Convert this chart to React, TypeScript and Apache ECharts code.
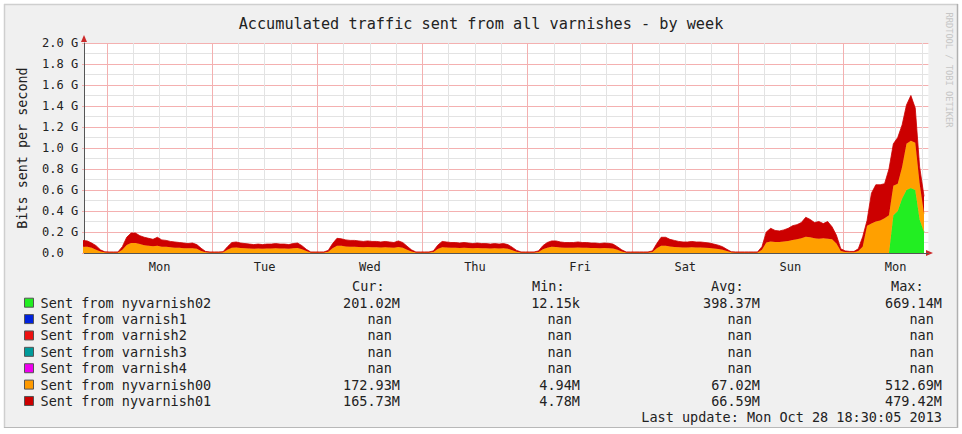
import React, { useEffect, useRef } from 'react';
import * as echarts from 'echarts';

// ---------- texts ----------
const chartTitle = 'Accumulated traffic sent from all varnishes - by week';
const yAxisTitle = 'Bits sent per second';
const watermarkText = 'RRDTOOL / TOBI OETIKER';
const lastUpdateText = 'Last update: Mon Oct 28 18:30:05 2013';
const dayLabels = ['Mon', 'Tue', 'Wed', 'Thu', 'Fri', 'Sat', 'Sun', 'Mon'];

// ---------- data (Gbit/s), hourly samples, hour 0 = Mon 00:00 ----------
const firstSampleHour = -5.5;
const sampleStepHours = 1;

// layer: Sent from nyvarnish00 (orange)
const nyvarnish00 = [
  // Sun evening
  0.06, 0.06, 0.05, 0.03, 0.015, 0.006,
  // Mon
  0.005, 0.005, 0.005, 0.03, 0.076, 0.095, 0.095, 0.085, 0.075, 0.07, 0.065, 0.07,
  0.06, 0.06, 0.055, 0.05, 0.05, 0.045, 0.045, 0.045, 0.04, 0.02, 0.008, 0.005,
  // Tue
  0.005, 0.005, 0.006, 0.03, 0.05, 0.052, 0.048, 0.045, 0.042, 0.04, 0.042, 0.04,
  0.042, 0.043, 0.045, 0.042, 0.042, 0.04, 0.045, 0.047, 0.035, 0.018, 0.005, 0.005,
  // Wed
  0.005, 0.005, 0.012, 0.045, 0.07, 0.068, 0.062, 0.06, 0.06, 0.058, 0.055, 0.057,
  0.055, 0.055, 0.052, 0.055, 0.052, 0.05, 0.057, 0.05, 0.032, 0.015, 0.005, 0.005,
  // Thu
  0.005, 0.005, 0.01, 0.037, 0.055, 0.052, 0.05, 0.05, 0.048, 0.05, 0.048, 0.045,
  0.047, 0.045, 0.045, 0.043, 0.045, 0.042, 0.045, 0.04, 0.027, 0.012, 0.005, 0.005,
  // Fri
  0.005, 0.005, 0.01, 0.035, 0.05, 0.06, 0.058, 0.052, 0.05, 0.05, 0.05, 0.052,
  0.05, 0.05, 0.048, 0.048, 0.045, 0.047, 0.046, 0.042, 0.03, 0.015, 0.005, 0.005,
  // Sat
  0.005, 0.005, 0.005, 0.005, 0.01, 0.045, 0.07, 0.07, 0.062, 0.058, 0.055, 0.052,
  0.052, 0.055, 0.052, 0.052, 0.05, 0.047, 0.042, 0.038, 0.03, 0.018, 0.006, 0.005,
  // Sun
  0.005, 0.005, 0.005, 0.005, 0.005, 0.03, 0.1, 0.11, 0.105, 0.105, 0.11, 0.115,
  0.125, 0.13, 0.14, 0.155, 0.15, 0.14, 0.135, 0.14, 0.135, 0.13, 0.09, 0.02,
  // Mon (until 18:30)
  0.01, 0.008, 0.008, 0.02, 0.06, 0.26, 0.28, 0.3, 0.31, 0.33, 0.36, 0.28,
  0.26, 0.3, 0.44, 0.45, 0.45, 0.34, 0.173,
];

// layer: Sent from nyvarnish01 (dark red)
const nyvarnish01 = [
  // Sun evening
  0.06, 0.055, 0.045, 0.04, 0.015, 0.005,
  // Mon
  0.005, 0.005, 0.005, 0.03, 0.074, 0.095, 0.095, 0.08, 0.075, 0.07, 0.065, 0.08,
  0.065, 0.06, 0.055, 0.055, 0.05, 0.05, 0.045, 0.05, 0.04, 0.025, 0.007, 0.005,
  // Tue
  0.005, 0.005, 0.006, 0.03, 0.05, 0.053, 0.047, 0.045, 0.043, 0.04, 0.043, 0.04,
  0.043, 0.042, 0.045, 0.043, 0.043, 0.04, 0.045, 0.048, 0.035, 0.017, 0.005, 0.005,
  // Wed
  0.005, 0.005, 0.013, 0.045, 0.07, 0.067, 0.063, 0.06, 0.06, 0.057, 0.055, 0.058,
  0.055, 0.055, 0.053, 0.055, 0.053, 0.05, 0.058, 0.05, 0.033, 0.015, 0.005, 0.005,
  // Thu
  0.005, 0.005, 0.01, 0.038, 0.055, 0.053, 0.05, 0.05, 0.047, 0.05, 0.047, 0.045,
  0.048, 0.045, 0.045, 0.042, 0.045, 0.043, 0.045, 0.04, 0.028, 0.013, 0.005, 0.005,
  // Fri
  0.005, 0.005, 0.01, 0.035, 0.05, 0.055, 0.057, 0.053, 0.05, 0.05, 0.05, 0.053,
  0.05, 0.05, 0.047, 0.047, 0.045, 0.048, 0.046, 0.043, 0.03, 0.015, 0.005, 0.005,
  // Sat
  0.005, 0.005, 0.005, 0.005, 0.01, 0.045, 0.08, 0.08, 0.068, 0.062, 0.055, 0.053,
  0.053, 0.055, 0.053, 0.053, 0.05, 0.048, 0.043, 0.037, 0.03, 0.017, 0.006, 0.005,
  // Sun
  0.005, 0.005, 0.005, 0.005, 0.005, 0.03, 0.1, 0.125, 0.11, 0.105, 0.11, 0.12,
  0.135, 0.14, 0.15, 0.185, 0.17, 0.15, 0.165, 0.14, 0.165, 0.12, 0.08, 0.02,
  // Mon (until 18:30)
  0.01, 0.007, 0.007, 0.02, 0.095, 0.05, 0.29, 0.35, 0.34, 0.33, 0.44, 0.4,
  0.44, 0.4, 0.37, 0.43, 0.33, 0.16, 0.166,
];

// layer: Sent from nyvarnish02 (green) - unknown before this hour
const nyvarnish02StartHour = 178.5;
const nyvarnish02 = [0.00001215, 0.36, 0.4, 0.52, 0.6, 0.62, 0.6, 0.32, 0.201];

// ---------- legend table ----------
const legendNames = [
  'Sent from nyvarnish02',
  'Sent from varnish1',
  'Sent from varnish2',
  'Sent from varnish3',
  'Sent from varnish4',
  'Sent from nyvarnish00',
  'Sent from nyvarnish01',
];
const legendColors = ['#22ee22', '#0022dd', '#ee1111', '#009b9b', '#ee00ee', '#ff9a00', '#cc0000'];
const statHeaders = ['Cur:', 'Min:', 'Avg:', 'Max:'];
const curValues = ['201.02M', 'nan', 'nan', 'nan', 'nan', '172.93M', '165.73M'];
const minValues = ['12.15k', 'nan', 'nan', 'nan', 'nan', '4.94M', '4.78M'];
const avgValues = ['398.37M', 'nan', 'nan', 'nan', 'nan', '67.02M', '66.59M'];
const maxValues = ['669.14M', 'nan', 'nan', 'nan', 'nan', '512.69M', '479.42M'];

// ---------- styling ----------
const MONO = '"DejaVu Sans Mono", "Liberation Mono", monospace';
const TEXT = '#222';
const majorGrid = '#f4b0b0';
const minorGrid = '#e3e3e3';
const areaGreen = '#22ee22';
const areaOrange = '#ffa000';
const areaRed = '#cc0000';

const xMin = -5.25;
const xMax = 187.5;
const xStep = 0.75;

export default function App() {
  const ref = useRef<HTMLDivElement>(null);

  useEffect(() => {
    if (!ref.current) return;
    const chart = echarts.init(ref.current, undefined, { renderer: 'svg' });

    const sampleHours = nyvarnish00.map((_, i) => firstSampleHour + i * sampleStepHours);
    // rows are [value, hour] so that the stacked dimension is the value (encode maps x to column 1)
    const greenData = sampleHours.map((h) => {
      const j = Math.round((h - nyvarnish02StartHour) / sampleStepHours);
      return [j >= 0 && j < nyvarnish02.length ? nyvarnish02[j] : null, h];
    });
    const orangeData = sampleHours.map((h, i) => [nyvarnish00[i], h]);
    const redData = sampleHours.map((h, i) => [nyvarnish01[i], h]);

    const ticksPerDay = Math.round(24 / xStep);
    const xGridColors = Array.from({ length: ticksPerDay }, (_, i) => {
      const h = xMin + i * xStep;
      const m = ((h % 24) + 24) % 24;
      if (Math.abs(m) < 1e-6) return majorGrid;
      if (Math.abs(m % 6) < 1e-6) return minorGrid;
      return 'rgba(0,0,0,0)';
    });

    const rowY0 = 302.7;
    const rowStep = 16.38;
    const charW = 8.13;
    const valueRight = [400, 580, 760, 942];
    const headerLeft = [352, 532, 711, 891];
    const statCols = [curValues, minValues, avgValues, maxValues];

    const graphics: any[] = [];
    // white margin outside frame
    graphics.push(
      { type: 'rect', shape: { x: 0, y: 0, width: 962, height: 4 }, style: { fill: '#ffffff' }, silent: true },
      { type: 'rect', shape: { x: 0, y: 0, width: 4, height: 434 }, style: { fill: '#ffffff' }, silent: true },
      { type: 'rect', shape: { x: 958, y: 0, width: 4, height: 434 }, style: { fill: '#ffffff' }, silent: true },
      { type: 'rect', shape: { x: 0, y: 428, width: 962, height: 6 }, style: { fill: '#ffffff' }, silent: true },
      { type: 'line', shape: { x1: 4, y1: 4.5, x2: 958, y2: 4.5 }, style: { stroke: '#cfcfcf', lineWidth: 1.5 }, silent: true },
      { type: 'line', shape: { x1: 4.5, y1: 4, x2: 4.5, y2: 428 }, style: { stroke: '#cfcfcf', lineWidth: 1.5 }, silent: true },
      { type: 'line', shape: { x1: 957.5, y1: 4, x2: 957.5, y2: 428 }, style: { stroke: '#b0b0b0', lineWidth: 1.5 }, silent: true },
      { type: 'line', shape: { x1: 4, y1: 427.5, x2: 958, y2: 427.5 }, style: { stroke: '#b8b8b8', lineWidth: 1 }, silent: true }
    );
    // title
    graphics.push({
      type: 'text', x: 481, y: 24,
      style: { text: chartTitle, fontFamily: MONO, fontSize: 15.2, fill: TEXT, align: 'center', verticalAlign: 'middle' },
      silent: true,
    });
    // vertical unit label
    graphics.push({
      type: 'text', x: 22, y: 148, rotation: Math.PI / 2,
      style: { text: yAxisTitle, fontFamily: MONO, fontSize: 13.4, fill: TEXT, align: 'center', verticalAlign: 'middle' },
      silent: true,
    });
    // watermark
    graphics.push({
      type: 'text', x: 949, y: 70, rotation: -Math.PI / 2,
      style: { text: watermarkText, fontFamily: MONO, fontSize: 8.7, fill: '#c6c6c6', align: 'center', verticalAlign: 'middle' },
      silent: true,
    });
    // axis arrows
    graphics.push(
      { type: 'polygon', shape: { points: [[81, 42], [84, 35], [87, 42]] }, style: { fill: '#cc2a2a' }, silent: true },
      { type: 'polygon', shape: { points: [[926, 250], [933, 253], [926, 256]] }, style: { fill: '#cc2a2a' }, silent: true }
    );
    // legend table
    statHeaders.forEach((h, c) => {
      graphics.push({
        type: 'text', x: headerLeft[c], y: rowY0 - rowStep,
        style: { text: h, fontFamily: MONO, fontSize: 13.5, fill: TEXT, align: 'left', verticalAlign: 'middle' },
        silent: true,
      });
    });
    legendNames.forEach((name, i) => {
      const y = rowY0 + i * rowStep;
      graphics.push({
        type: 'rect', shape: { x: 24.5, y: y - 4.5, width: 9, height: 9 },
        style: { fill: legendColors[i], stroke: '#555', lineWidth: 1 }, silent: true,
      });
      graphics.push({
        type: 'text', x: 40.5, y,
        style: { text: name, fontFamily: MONO, fontSize: 13.5, fill: TEXT, align: 'left', verticalAlign: 'middle' },
        silent: true,
      });
      statCols.forEach((col, c) => {
        const v = col[i];
        graphics.push({
          type: 'text', x: valueRight[c] - (v === 'nan' ? charW : 0), y,
          style: { text: v, fontFamily: MONO, fontSize: 13.5, fill: TEXT, align: 'right', verticalAlign: 'middle' },
          silent: true,
        });
      });
    });
    graphics.push({
      type: 'text', x: 942, y: rowY0 + legendNames.length * rowStep,
      style: { text: lastUpdateText, fontFamily: MONO, fontSize: 13.5, fill: TEXT, align: 'right', verticalAlign: 'middle' },
      silent: true,
    });

    const areaSeries = (name: string, data: any[], color: string, z: number) => ({
      type: 'line',
      name,
      stack: 'traffic',
      data,
      encode: { x: 1, y: 0 },
      symbol: 'none',
      showSymbol: false,
      silent: true,
      z,
      lineStyle: { width: 0.8, color },
      itemStyle: { color },
      areaStyle: { color, opacity: 1 },
    });

    chart.setOption({
      animation: false,
      backgroundColor: '#f0f0f0',
      grid: {
        left: 84,
        top: 43,
        width: (xMax - xMin) * (844.4 / 192.75),
        height: 210,
        show: true,
        backgroundColor: '#ffffff',
        borderWidth: 0,
      },
      xAxis: {
        type: 'value',
        min: xMin,
        max: xMax,
        interval: xStep,
        axisLine: { show: true, onZero: false, lineStyle: { color: '#555', width: 1 } },
        axisTick: { show: false },
        axisLabel: {
          show: true,
          margin: 8,
          fontFamily: MONO,
          fontSize: 12,
          color: TEXT,
          showMinLabel: true,
          showMaxLabel: true,
          formatter: (v: number) => {
            const d = (v - 12) / 24;
            const r = Math.round(d);
            if (Math.abs(d - r) < 1e-6 && r >= 0 && r < dayLabels.length) return dayLabels[r];
            return '';
          },
        },
        splitLine: { show: true, lineStyle: { color: xGridColors, width: 1 } },
      },
      yAxis: {
        type: 'value',
        min: 0,
        max: 2,
        interval: 0.2,
        axisLine: { show: true, onZero: false, lineStyle: { color: '#555', width: 1 } },
        axisTick: { show: true, length: 2, lineStyle: { color: majorGrid } },
        axisLabel: {
          margin: 42,
          align: 'left',
          fontFamily: MONO,
          fontSize: 12,
          color: TEXT,
          formatter: (v: number) => (v === 0 ? '0.0' : v.toFixed(1) + ' G'),
        },
        splitLine: { show: true, lineStyle: { color: majorGrid, width: 1 } },
        minorTick: { show: false, splitNumber: 2 },
        minorSplitLine: { show: true, lineStyle: { color: minorGrid, width: 1 } },
      },
      series: [
        areaSeries('Sent from nyvarnish02', greenData, areaGreen, 3),
        areaSeries('Sent from nyvarnish00', orangeData, areaOrange, 4),
        areaSeries('Sent from nyvarnish01', redData, areaRed, 5),
      ],
      graphic: graphics,
    });

    return () => chart.dispose();
  }, []);

  return (
    <div
      ref={ref}
      style={{ position: 'absolute', left: 0, top: 0, width: 962, height: 434 }}
    />
  );
}
